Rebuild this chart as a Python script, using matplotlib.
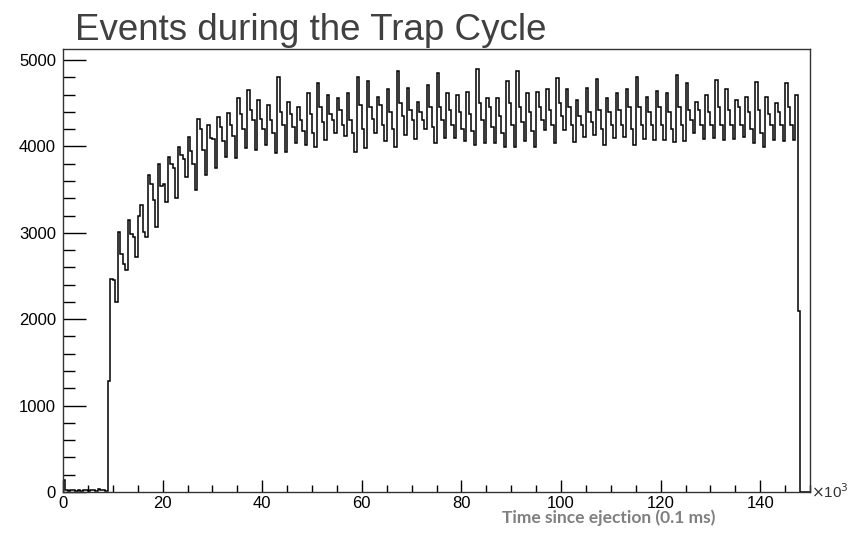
import numpy as np
import matplotlib
matplotlib.use('Agg')
import matplotlib.pyplot as plt
from matplotlib.ticker import MultipleLocator

plt.rcParams['font.family'] = ['Liberation Sans', 'DejaVu Sans']

# histogram: 300 bins of 0.5 (x10^3) over 0..150, events per bin
baseline = [140, 20, 15, 18, 20, 16, 18, 15, 20, 18, 16, 20, 18, 15, 40, 20, 18, 15]
onset = [1280, 2470, 2450, 2200]
rise = [3010, 2760, 2640, 2570,
        3150, 2990, 2950, 2720,
        3190, 3320, 3010, 2950,
        3670, 3560, 3380, 3070,
        3800, 3540, 3570, 3360,
        3880, 3800, 3750, 3400,
        3990, 3900, 3850, 3650,
        4110, 3950, 3800, 3490,
        4316, 4200, 3960, 3670,
        4250, 4100, 4080, 3745,
        4343, 4220, 4060, 3880,
        4382, 4250, 4120, 3860,
        4556, 4380, 4200, 3976,
        4652, 4420, 4300, 3957]
plateau = [4537, 4320, 4200, 4015,
           4479, 4300, 4150, 3918,
           4807, 4400, 4250, 3938,
           4517, 4380, 4220, 4034,
           4459, 4300, 4180, 4015,
           4614, 4380, 4150, 3996,
           4730, 4450, 4280, 4073,
           4595, 4380, 4300, 4150,
           4556, 4420, 4250, 4119,
           4614, 4300, 4150, 3938,
           4807, 4480, 4200, 3984,
           4760, 4450, 4320, 4150,
           4575, 4480, 4250, 4065,
           4660, 4400, 4200, 3996,
           4876, 4500, 4350, 4131,
           4672, 4420, 4300, 4081,
           4517, 4400, 4300, 4197,
           4710, 4450, 4220, 4034,
           4853, 4450, 4300, 4092,
           4614, 4420, 4250, 4092,
           4595, 4400, 4200, 4065,
           4633, 4380, 4180, 4015,
           4892, 4500, 4300, 4034,
           4556, 4450, 4220, 4034,
           4556, 4350, 4150, 3996,
           4760, 4500, 4250, 3996,
           4876, 4450, 4280, 4065,
           4614, 4400, 4180, 3996,
           4633, 4450, 4300, 4189,
           4660, 4420, 4250, 4042,
           4788, 4500, 4350, 4189,
           4660, 4450, 4250, 4054,
           4537, 4350, 4250, 4112,
           4672, 4400, 4280, 4131,
           4776, 4420, 4200, 4015,
           4556, 4400, 4250, 4092,
           4614, 4420, 4250, 4104,
           4660, 4450, 4200, 4015,
           4807, 4450, 4250, 4081,
           4575, 4400, 4250, 4073,
           4645, 4450, 4250, 4073,
           4622, 4400, 4200, 4054,
           4826, 4450, 4250, 4060,
           4730, 4420, 4300, 4158,
           4517, 4420, 4250, 4081,
           4595, 4400, 4250, 4092,
           4768, 4450, 4250, 4073,
           4660, 4420, 4250, 4081,
           4537, 4450, 4250, 4104,
           4575, 4400, 4200, 4034,
           4741, 4420, 4150, 3988,
           4575, 4380, 4250, 4073,
           4498, 4400, 4250, 4065,
           4730, 4450, 4250, 4073]
tail = [4600, 2090, 0, 0, 0, 0]

counts = np.array(baseline + onset + rise + plateau + tail, dtype=float)
edges = np.linspace(0, 150, len(counts) + 1)

fig = plt.figure(figsize=(8.52, 5.33), dpi=100)
ax = fig.add_axes([63 / 852, 41 / 533, 747 / 852, 443 / 533])

ax.stairs(counts, edges, color='black', lw=1.1)

ax.set_xlim(0, 150)
ax.set_ylim(0, 5127)
ax.set_xticks(np.arange(0, 141, 20))
ax.xaxis.set_minor_locator(MultipleLocator(5))
ax.set_yticks(np.arange(0, 5001, 1000))
ax.yaxis.set_minor_locator(MultipleLocator(200))

ax.tick_params(axis='both', which='both', direction='in', top=False, right=False,
               labelsize=12, colors='black', width=1.0)
ax.tick_params(axis='y', which='major', length=16.5, pad=5)
ax.tick_params(axis='y', which='minor', length=8.5)
ax.tick_params(axis='x', which='major', length=9, pad=3)
ax.tick_params(axis='x', which='minor', length=5)
for s in ax.spines.values():
    s.set_linewidth(1.0)
    s.set_color('#333333')

ax.text(1.002, 0.0, r'$\times$10$^3$', transform=ax.transAxes, ha='left', va='center',
        fontsize=11, color='#333333')

fig.text(75 / 852, 1 - 40 / 533, 'Events during the Trap Cycle', fontsize=26.5,
         color='#404040', ha='left', va='baseline')
fig.text(609 / 852, 15 / 533, 'Time since ejection (0.1 ms)', fontsize=12.5,
         fontweight='bold', color='#7f7f7f', family=['Lato', 'DejaVu Sans'],
         ha='center', va='center')

fig.savefig('out.png', dpi=100)
